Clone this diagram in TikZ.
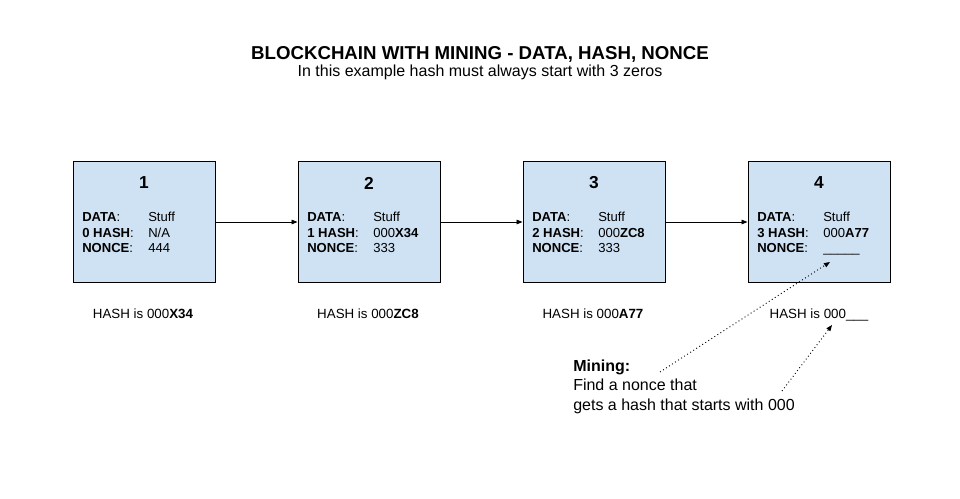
\documentclass[tikz,border=0pt]{standalone}
\usepackage{fontspec}
\setmainfont{Liberation Sans}
\usetikzlibrary{arrows.meta}

\begin{document}
\begin{tikzpicture}[x=0.75pt,y=-0.75pt,
  every node/.style={font=\fontsize{10}{12}\selectfont,inner sep=0pt},
  blk/.style={draw=black,line width=0.75pt,fill=blockblue,
    minimum width=106.5pt,minimum height=90pt},
  num/.style={font=\fontsize{13}{15}\selectfont\bfseries},
  fld/.style={anchor=base west,font=\fontsize{9.8}{12}\selectfont},
  hsh/.style={anchor=base},
  link/.style={-{Triangle[length=4.5pt,width=3.5pt]},line width=0.6pt},
  mine/.style={dotted,-{Triangle[length=4.5pt,width=3.5pt]},line width=0.7pt}]

\definecolor{blockblue}{RGB}{207,226,243}

\useasboundingbox (0,0) rectangle (960,499);

% ===================== TITLE =====================
\node[anchor=base,font=\fontsize{14}{16}\selectfont\bfseries] (title) at (480,60)
  {BLOCKCHAIN WITH MINING - DATA, HASH, NONCE};
\node[anchor=base,font=\fontsize{12}{14}\selectfont] (subtitle) at (480,77)
  {In this example hash must always start with 3 zeros};

% ===================== BLOCKS =====================
\node[blk] (b1) at (144,222) {};
\node[blk] (b2) at (369,222) {};
\node[blk] (b3) at (594,222) {};
\node[blk] (b4) at (819,222) {};

\node[num] (n1) at (144,183) {1};
\node[num] (n2) at (369,183) {2};
\node[num] (n3) at (594,183) {3};
\node[num] (n4) at (819,183) {4};

\node[fld] (f1) at (82,221) {\begin{tabular}[t]{@{}p{49.5pt}@{}l@{}}
  \textbf{DATA}: & Stuff\\ \textbf{0 HASH}: & N/A\\ \textbf{NONCE}: & 444\end{tabular}};
\node[fld] (f2) at (307,221) {\begin{tabular}[t]{@{}p{49.5pt}@{}l@{}}
  \textbf{DATA}: & Stuff\\ \textbf{1 HASH}: & 000\textbf{X34}\\ \textbf{NONCE}: & 333\end{tabular}};
\node[fld] (f3) at (532,221) {\begin{tabular}[t]{@{}p{49.5pt}@{}l@{}}
  \textbf{DATA}: & Stuff\\ \textbf{2 HASH}: & 000\textbf{ZC8}\\ \textbf{NONCE}: & 333\end{tabular}};
\node[fld] (f4) at (757,221) {\begin{tabular}[t]{@{}p{49.5pt}@{}l@{}}
  \textbf{DATA}: & Stuff\\ \textbf{3 HASH}: & 000\textbf{A77}\\ \textbf{NONCE}: & \_\_\_\_\_\end{tabular}};

% links
\draw[link] (b1) -- (b2);
\draw[link] (b2) -- (b3);
\draw[link] (b3) -- (b4);

% ===================== HASHES =====================
\node[hsh] (h1) at (143,318) {HASH is 000\textbf{X34}};
\node[hsh] (h2) at (368,318) {HASH is 000\textbf{ZC8}};
\node[hsh] (h3) at (593,318) {HASH is 000\textbf{A77}};
\node[hsh] (h4) at (819,318) {HASH is 000\_\_\_};

% ===================== MINING =====================
% base anchor sits on the last line here
\node[anchor=base west,align=left,font=\fontsize{12}{14.6}\selectfont] (mining) at (573,410)
  {\textbf{Mining:}\\Find a nonce that\\gets a hash that starts with 000};

\coordinate (m1) at (660,372);
\coordinate (m2) at (782,391);
\coordinate (nonce) at (830,262);
\coordinate (blank) at (832,325);
\draw[mine] (m1) -- (nonce);
\draw[mine] (m2) -- (blank);

\end{tikzpicture}
\end{document}
